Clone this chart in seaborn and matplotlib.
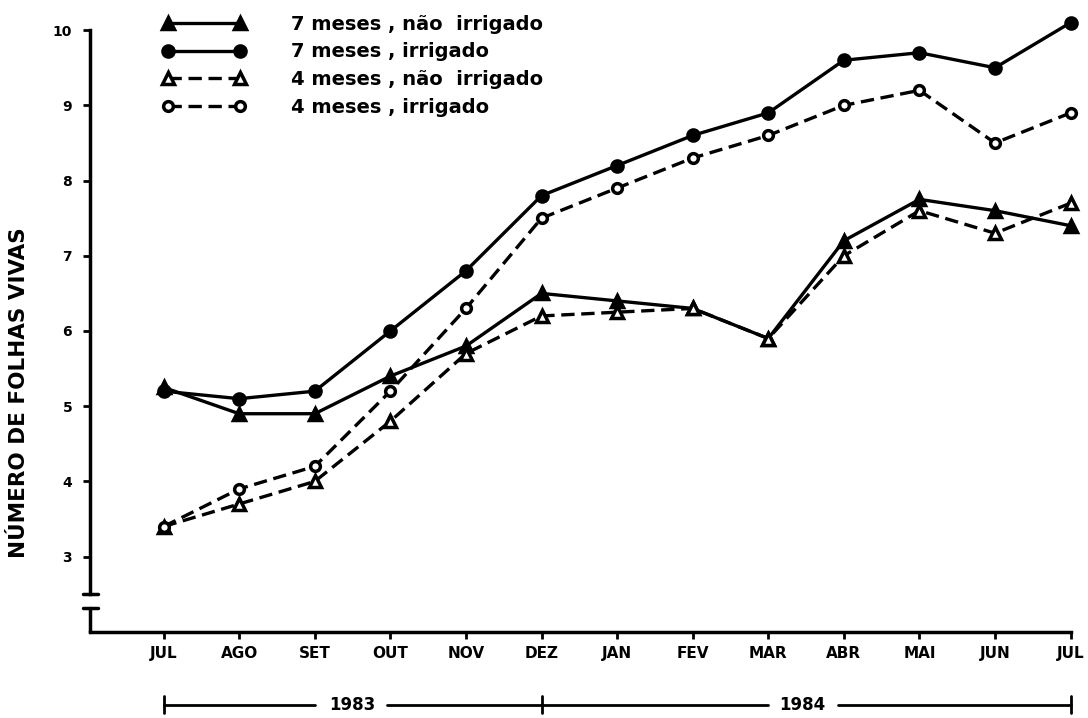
import numpy as np
import pandas as pd
import seaborn as sns
import matplotlib.pyplot as plt
from matplotlib.lines import Line2D
import matplotlib.transforms as mtransforms

# meses de jul/1983 a jul/1984
meses = ['JUL', 'AGO', 'SET', 'OUT', 'NOV', 'DEZ', 'JAN',
         'FEV', 'MAR', 'ABR', 'MAI', 'JUN', 'JUL']

sete_nao_irrig = [5.25, 4.9, 4.9, 5.4, 5.8, 6.5, 6.4, 6.3, 5.9, 7.2, 7.75, 7.6, 7.4]
sete_irrig = [5.2, 5.1, 5.2, 6.0, 6.8, 7.8, 8.2, 8.6, 8.9, 9.6, 9.7, 9.5, 10.1]
quatro_nao_irrig = [3.4, 3.7, 4.0, 4.8, 5.7, 6.2, 6.25, 6.3, 5.9, 7.0, 7.6, 7.3, 7.7]
quatro_irrig = [3.4, 3.9, 4.2, 5.2, 6.3, 7.5, 7.9, 8.3, 8.6, 9.0, 9.2, 8.5, 8.9]

series = ['7 meses , não  irrigado', '7 meses , irrigado',
          '4 meses , não  irrigado', '4 meses , irrigado']

df = pd.DataFrame({'mes': np.arange(len(meses))})
df[series[0]] = sete_nao_irrig
df[series[1]] = sete_irrig
df[series[2]] = quatro_nao_irrig
df[series[3]] = quatro_irrig

# estilo preto e branco, como no original
sns.set_style("ticks", {'axes.edgecolor': 'black', 'text.color': 'black',
                        'axes.labelcolor': 'black', 'xtick.color': 'black',
                        'ytick.color': 'black'})
plt.rcParams['font.family'] = ['DejaVu Sans']

fig = plt.figure(figsize=(10.88, 7.18), dpi=100)
ax = fig.add_axes([0.083, 0.12, 0.901, 0.838])

estilos = {
    series[0]: dict(marker='^', linestyle='-', mfc='black', ms=8),
    series[1]: dict(marker='o', linestyle='-', mfc='black', ms=8),
    series[2]: dict(marker='^', linestyle=(0, (4, 2)), mfc='white', ms=8),
    series[3]: dict(marker='o', linestyle=(0, (4, 2)), mfc='white', ms=7),
}

handles = []
for s in series:
    st = estilos[s]
    sns.lineplot(data=df, x='mes', y=s, ax=ax, color='black',
                 linewidth=2.4, linestyle=st['linestyle'],
                 marker=st['marker'], markersize=st['ms'],
                 markerfacecolor=st['mfc'], markeredgecolor='black',
                 markeredgewidth=2.5, clip_on=False, zorder=3)
    handles.append(Line2D([], [], color='black', linewidth=2.4,
                          linestyle=st['linestyle'], marker=st['marker'],
                          markersize=st['ms'], markerfacecolor=st['mfc'],
                          markeredgecolor='black', markeredgewidth=2.5))

ax.set_xlim(-0.97, 12)
ax.set_ylim(2, 10)
ax.set_xticks(np.arange(len(meses)))
ax.set_xticklabels(meses, fontsize=11, fontweight='bold')
ax.set_yticks([3, 4, 5, 6, 7, 8, 9, 10])
ax.set_yticklabels(['3', '4', '5', '6', '7', '8', '9', '10'],
                   fontsize=10, fontweight='bold')
ax.tick_params(axis='both', direction='out', length=5, width=2, pad=5,
               colors='black')
ax.tick_params(axis='y', pad=8)
ax.set_xlabel('')
ax.set_ylabel('NÚMERO DE FOLHAS VIVAS', fontsize=15.5, fontweight='bold',
              color='black')
ax.yaxis.set_label_coords(-0.063, 0.397)

sns.despine(ax=ax)
for sp in ['left', 'bottom']:
    ax.spines[sp].set_linewidth(2.5)
    ax.spines[sp].set_color('black')
ax.spines['left'].set_bounds(2.5, 10)

# quebra do eixo y
ax.plot([-0.97, -0.97], [2.0, 2.32], color='black', lw=2.5, clip_on=False)
ax.plot([-1.07, -0.87], [2.5, 2.5], color='black', lw=2.5, clip_on=False)
ax.plot([-1.07, -0.87], [2.32, 2.32], color='black', lw=2.5, clip_on=False)

# indicação dos anos
trans = mtransforms.blended_transform_factory(ax.transData, ax.transAxes)
yb = -0.121
ax.plot([0, 2.0], [yb, yb], color='black', lw=2, transform=trans, clip_on=False)
ax.plot([2.96, 8.0], [yb, yb], color='black', lw=2, transform=trans, clip_on=False)
ax.plot([8.92, 12], [yb, yb], color='black', lw=2, transform=trans, clip_on=False)
for xv in [0, 5, 12]:
    ax.plot([xv, xv], [yb - 0.014, yb + 0.014], color='black', lw=2,
            transform=trans, clip_on=False)
ax.text(2.5, yb, '1983', transform=trans, ha='center', va='center',
        fontsize=12, fontweight='bold', color='black')
ax.text(8.45, yb, '1984', transform=trans, ha='center', va='center',
        fontsize=12, fontweight='bold', color='black')

leg = ax.legend(handles, series, loc='upper left',
                bbox_to_anchor=(0.0556, 1.055), frameon=False,
                numpoints=2, handlelength=4.3, handletextpad=2.3,
                labelspacing=0.45, labelcolor='black',
                prop={'size': 14, 'weight': 'bold'})

fig.savefig('out.png', dpi=100)
